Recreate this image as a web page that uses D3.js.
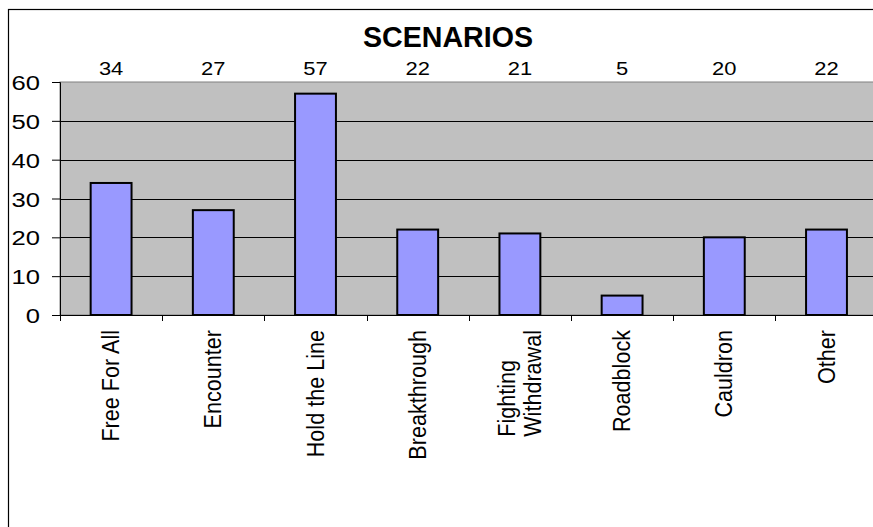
<!DOCTYPE html>
<html><head><meta charset="utf-8">
<script src="https://cdn.jsdelivr.net/npm/d3@7"></script>
<style>body{margin:0;background:#fff;}svg{display:block;font-family:Arial,"Liberation Sans",sans-serif;}</style>
</head><body>
<svg id="c" width="873" height="527"></svg>
<script>
const categories = ["Free For All","Encounter","Hold the Line","Breakthrough","Fighting Withdrawal","Roadblock","Cauldron","Other"];
const labelLines = [["Free For All"],["Encounter"],["Hold the Line"],["Breakthrough"],["Fighting","Withdrawal"],["Roadblock"],["Cauldron"],["Other"]];
const values = [34,27,57,22,21,5,20,22];
const yTicks = [0,10,20,30,40,50,60];
const title = "SCENARIOS";

(function(){
const svg = d3.select("#c");
const pLeft = 60, pTop = 82, pBottom = 315, bandW = 102.2;
const pRight = pLeft + bandW * categories.length;
const stretch = 1.18;

// outer frame (left & top visible)
svg.append("rect").attr("x",8.5).attr("y",9.5).attr("width",900).attr("height",600)
  .attr("fill","#fff").attr("stroke","#000").attr("stroke-width",1.2);

const x = d3.scaleBand().domain(categories).range([pLeft, pRight]).paddingInner(0.6).paddingOuter(0.3);
const xb = d3.scaleBand().domain(categories).range([pLeft, pRight]);
const y = d3.scaleLinear().domain([0,60]).range([pBottom, pTop]);

// plot area
svg.append("rect").attr("x",pLeft).attr("y",pTop).attr("width",pRight-pLeft).attr("height",pBottom-pTop)
  .attr("fill","#C0C0C0").attr("stroke","#808080").attr("stroke-width",1);

// gridlines
svg.append("g").selectAll("line").data(yTicks.filter(d=>d>0 && d<60)).join("line")
  .attr("x1",pLeft).attr("x2",pRight).attr("y1",d=>Math.round(y(d))+0.5).attr("y2",d=>Math.round(y(d))+0.5)
  .attr("stroke","#000").attr("stroke-width",1);

// bars
svg.append("g").selectAll("rect").data(values).join("rect")
  .attr("x",(d,i)=>x(categories[i])).attr("width",x.bandwidth())
  .attr("y",d=>y(d)).attr("height",d=>pBottom-y(d))
  .attr("fill","#9999FF").attr("stroke","#000").attr("stroke-width",2);

// y axis
const ya = svg.append("g").attr("transform",`translate(${pLeft},0)`)
  .call(d3.axisLeft(y).tickValues(yTicks).tickSize(8).tickPadding(0));
ya.select(".domain").attr("stroke","#000");
ya.selectAll(".tick text").attr("font-size",21).attr("fill","#000")
  .attr("font-family","Arial, 'Liberation Sans', sans-serif")
  .attr("x",0).attr("dy","0.36em")
  .attr("transform",`translate(-20,0) scale(${stretch+0.04},1)`);

// x axis line and ticks at category boundaries
svg.append("line").attr("x1",pLeft).attr("x2",pRight).attr("y1",pBottom+0.5).attr("y2",pBottom+0.5).attr("stroke","#000");
svg.append("g").selectAll("line").data(d3.range(categories.length+1)).join("line")
  .attr("x1",i=>Math.round(pLeft+i*bandW)+0.5).attr("x2",i=>Math.round(pLeft+i*bandW)+0.5)
  .attr("y1",pBottom).attr("y2",pBottom+6).attr("stroke","#000");

// value labels
svg.append("g").selectAll("text").data(values).join("text")
  .attr("transform",(d,i)=>`translate(${xb(categories[i])+xb.bandwidth()/2},75) scale(${stretch},1)`)
  .attr("text-anchor","middle").attr("font-size",18.6).text(d=>d);

// category labels rotated
const fs = 21.6, lineH = 23;
labelLines.forEach((lines,i)=>{
  const cx = xb(categories[i]) + xb.bandwidth()/2 - 0.5;
  const g = svg.append("g").attr("transform",`translate(${cx},330) rotate(-90) scale(1,1.15)`);
  const texts = lines.map((t,j)=>g.append("text").attr("font-size",fs).attr("dominant-baseline","central")
     .attr("y",(j-(lines.length-1)/2)*lineH).text(t));
  const maxL = d3.max(texts, t=>t.node().getComputedTextLength());
  texts.forEach(t=>t.attr("x",-maxL).attr("text-anchor","start"));
});

// title
svg.append("text").attr("x",448).attr("y",47).attr("text-anchor","middle")
  .attr("font-size",28.6).attr("font-weight","bold").text(title);
})();
</script>
</body></html>
